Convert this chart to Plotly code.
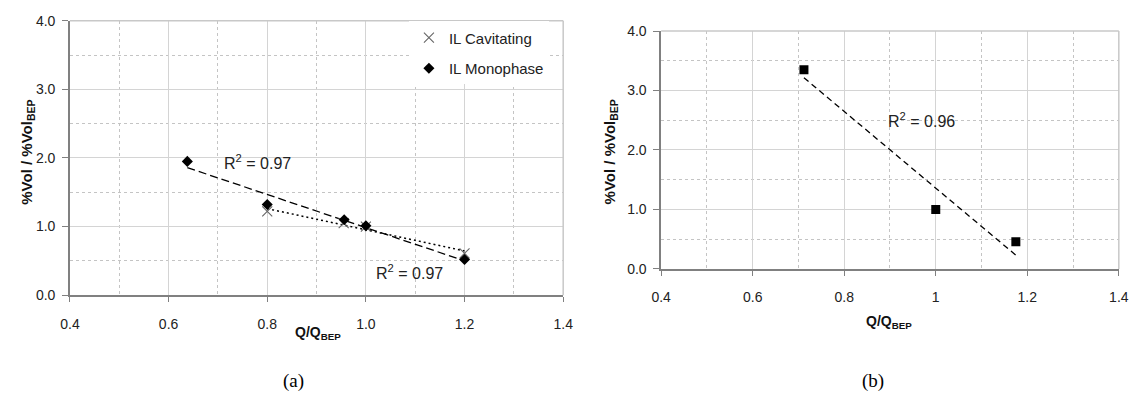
import numpy as np
import plotly.graph_objects as go

W, H = 1147, 403

# ---- data ----
cav_x = [0.80, 0.955, 1.00, 1.20]
cav_y = [1.22, 1.05, 1.00, 0.61]
mono_x = [0.638, 0.80, 0.956, 1.00, 1.20]
mono_y = [1.95, 1.32, 1.10, 1.01, 0.52]
b_x = [0.712, 1.00, 1.175]
b_y = [3.35, 1.00, 0.455]

x_ticks = [0.4, 0.6, 0.8, 1.0, 1.2, 1.4]
x_text_a = ["0.4", "0.6", "0.8", "1.0", "1.2", "1.4"]
x_text_b = ["0.4", "0.6", "0.8", "1", "1.2", "1.4"]
y_ticks = [0.0, 1.0, 2.0, 3.0, 4.0]
y_text = ["0.0", "1.0", "2.0", "3.0", "4.0"]
r2_a_mono = "R<sup>2</sup> = 0.97"
r2_a_cav = "R<sup>2</sup> = 0.97"
r2_b = "R<sup>2</sup> = 0.96"


def fit_line(x, y):
    k, c = np.polyfit(x, y, 1)
    xs = np.array([min(x), max(x)])
    return xs, k * xs + c


FONT = "Liberation Sans, Arial, sans-serif"
fig = go.Figure()

# left chart
xs, ys = fit_line(mono_x, mono_y)
fig.add_trace(go.Scatter(x=xs, y=ys, mode="lines", showlegend=False,
                         line=dict(color="black", width=1.3, dash="8px,4px"),
                         xaxis="x", yaxis="y"))
xs, ys = fit_line(cav_x, cav_y)
fig.add_trace(go.Scatter(x=xs, y=ys, mode="lines", showlegend=False,
                         line=dict(color="black", width=1.5, dash="2px,3px"),
                         xaxis="x", yaxis="y"))
fig.add_trace(go.Scatter(x=cav_x, y=cav_y, mode="markers", name="IL Cavitating",
                         legendgroup="a",
                         marker=dict(symbol="x-thin", size=10, color="#666666",
                                     line=dict(width=1.1, color="#666666")),
                         xaxis="x", yaxis="y"))
fig.add_trace(go.Scatter(x=mono_x, y=mono_y, mode="markers", name="IL Monophase",
                         legendgroup="b",
                         marker=dict(symbol="diamond", size=8.5, color="black"),
                         xaxis="x", yaxis="y"))

# right chart
xs, ys = fit_line(b_x, b_y)
fig.add_trace(go.Scatter(x=xs, y=ys, mode="lines", showlegend=False,
                         line=dict(color="black", width=1.3, dash="6px,4px"),
                         xaxis="x2", yaxis="y2"))
fig.add_trace(go.Scatter(x=b_x, y=b_y, mode="markers", showlegend=False,
                         marker=dict(symbol="square", size=9, color="black"),
                         xaxis="x2", yaxis="y2"))


def px_x(p):
    return p / W


def px_y(p):
    return 1 - p / H


grid_major = "#d4d4d4"
grid_minor = "#c4c4c4"
axis_col = "#808080"


def xaxis(domain, anchor, ticktext):
    return dict(domain=domain, anchor=anchor, range=[0.4, 1.4],
                tickvals=x_ticks, ticktext=ticktext,
                showgrid=True, gridcolor=grid_major, gridwidth=1,
                minor=dict(dtick=0.1, tick0=0.4, showgrid=True, gridcolor=grid_minor,
                           griddash="dot", gridwidth=1, ticks=""),
                showline=True, linecolor=axis_col, linewidth=1.5,
                ticks="outside", ticklen=5, tickcolor=axis_col, tickwidth=1,
                ticklabelstandoff=10,
                tickfont=dict(family=FONT, size=14, color="#222222"),
                zeroline=False, fixedrange=True)


def yaxis(domain, anchor):
    return dict(domain=domain, anchor=anchor, range=[0, 4],
                tickvals=y_ticks, ticktext=y_text,
                showgrid=True, gridcolor=grid_major, gridwidth=1,
                minor=dict(dtick=0.5, tick0=0, showgrid=True, gridcolor=grid_minor,
                           griddash="dot", gridwidth=1, ticks=""),
                showline=True, linecolor=axis_col, linewidth=1.5,
                ticks="outside", ticklen=6, tickcolor=axis_col, tickwidth=1,
                ticklabelstandoff=4,
                tickfont=dict(family=FONT, size=14, color="#222222"),
                zeroline=False, fixedrange=True)


la_x = [px_x(61), px_x(563)]
la_y = [px_y(299), px_y(13.3)]
rb_x = [px_x(662.7), px_x(1128.5)]
rb_y = [px_y(271.7), px_y(24)]

fig.update_layout(
    width=W, height=H,
    margin=dict(l=0, r=0, t=0, b=0),
    paper_bgcolor="white", plot_bgcolor="white",
    font=dict(family=FONT, color="#222222"),
    xaxis=xaxis(la_x, "y", x_text_a),
    yaxis=yaxis(la_y, "x"),
    xaxis2=xaxis(rb_x, "y2", x_text_b),
    yaxis2=yaxis(rb_y, "x2"),
    showlegend=True,
    legend=dict(x=px_x(406), y=px_y(14), xanchor="left", yanchor="top",
                bgcolor="white", borderwidth=0, tracegroupgap=8,
                itemwidth=30,
                font=dict(family=FONT, size=15, color="#222222")),
)

shapes = []
for xr, yr in (("x", "y"), ("x2", "y2")):
    shapes.append(dict(type="line", xref=f"{xr} domain", yref=f"{yr} domain",
                       x0=0, x1=1, y0=1, y1=1, layer="above",
                       line=dict(color="#c8c8c8", width=1.5)))
    shapes.append(dict(type="line", xref=f"{xr} domain", yref=f"{yr} domain",
                       x0=1, x1=1, y0=0, y1=1, layer="above",
                       line=dict(color="#c8c8c8", width=1.5)))
fig.update_layout(shapes=shapes)

ann = []
# R^2 labels
ann.append(dict(x=0.709, y=1.94, xref="x", yref="y", text=r2_a_mono, showarrow=False,
                xanchor="left", yanchor="middle",
                font=dict(family=FONT, size=16, color="#222222")))
ann.append(dict(x=1.016, y=0.335, xref="x", yref="y", text=r2_a_cav, showarrow=False,
                xanchor="left", yanchor="middle",
                font=dict(family=FONT, size=16, color="#222222")))
ann.append(dict(x=0.891, y=2.51, xref="x2", yref="y2", text=r2_b, showarrow=False,
                xanchor="left", yanchor="middle",
                font=dict(family=FONT, size=16, color="#222222")))
# axis titles
ytitle = "<b>%Vol / %Vol<sub>BEP</sub></b>"
xtitle = "<b>Q/Q<sub>BEP</sub></b>"
ann.append(dict(x=px_x(17), y=px_y(150), xref="paper", yref="paper", text=ytitle,
                textangle=-90, showarrow=False, xanchor="center", yanchor="middle",
                font=dict(family=FONT, size=15, color="#111111")))
ann.append(dict(x=px_x(611), y=px_y(150), xref="paper", yref="paper", text=ytitle,
                textangle=-90, showarrow=False, xanchor="center", yanchor="middle",
                font=dict(family=FONT, size=15, color="#111111")))
ann.append(dict(x=px_x(313), y=px_y(338), xref="paper", yref="paper", text=xtitle,
                showarrow=False, xanchor="center", yanchor="middle",
                font=dict(family=FONT, size=14, color="#111111")))
ann.append(dict(x=px_x(895), y=px_y(327), xref="paper", yref="paper", text=xtitle,
                showarrow=False, xanchor="center", yanchor="middle",
                font=dict(family=FONT, size=14, color="#111111")))
# panel labels
ann.append(dict(x=px_x(289), y=px_y(388), xref="paper", yref="paper", text="(a)",
                showarrow=False, xanchor="center", yanchor="middle",
                font=dict(family="Liberation Serif, Times New Roman, serif", size=19,
                          color="black")))
ann.append(dict(x=px_x(878), y=px_y(388), xref="paper", yref="paper", text="(b)",
                showarrow=False, xanchor="center", yanchor="middle",
                font=dict(family="Liberation Serif, Times New Roman, serif", size=19,
                          color="black")))
fig.update_layout(annotations=ann)

fig.write_html("out.html", config={"displayModeBar": False})
